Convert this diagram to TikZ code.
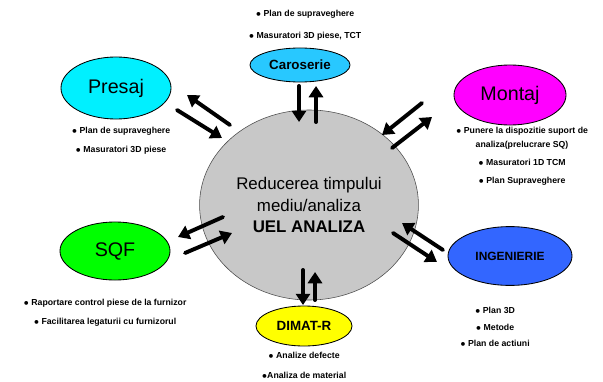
\documentclass[tikz,border=0pt]{standalone}
\usepackage{fontspec}
\setmainfont{Liberation Sans}
\usepackage{tikz}
\usetikzlibrary{positioning,shapes.geometric,arrows.meta}

\definecolor{grisC}{RGB}{200,200,200}
\definecolor{cianC}{RGB}{40,200,255}
\definecolor{cianP}{RGB}{0,240,255}
\definecolor{magentaM}{RGB}{255,0,255}
\definecolor{verdeS}{RGB}{0,255,0}
\definecolor{galbenD}{RGB}{255,255,0}
\definecolor{albastruI}{RGB}{51,102,255}

\tikzset{
  dept/.style={ellipse, draw=black, line width=0.6pt, inner sep=0pt},
  lista/.style={align=center, inner sep=0pt, font=\fontsize{6.2}{7.5}\selectfont\bfseries},
  flow/.style={line width=2.8pt, -{Triangle[length=8pt,width=10pt]}, line cap=round}
}

\begin{document}
\begin{tikzpicture}[x=0.025cm, y=-0.025cm]
\useasboundingbox (0,0) rectangle (603,381);
% Nodes
\node(C)[ellipse, draw=black!70, fill=grisC, minimum width=4.45cm, minimum height=4.75cm, align=center, font=\fontsize{12}{15}\selectfont] at (309,205)
  {Reducerea timpului\\mediu/analiza\\\textbf{UEL ANALIZA}};
\node(car)[dept, fill=cianC, minimum width=2.5cm, minimum height=0.85cm, font=\fontsize{9.5}{11}\selectfont\bfseries] at (300,65){Caroserie};
\node(pres)[dept, fill=cianP, minimum width=2.75cm, minimum height=1.55cm, font=\fontsize{14}{16}\selectfont] at (116,88){Presaj};
\node(mont)[dept, fill=magentaM, minimum width=2.8cm, minimum height=1.5cm, font=\fontsize{14}{16}\selectfont] at (510,95){Montaj};
\node(sqf)[dept, fill=verdeS, minimum width=2.75cm, minimum height=1.45cm, font=\fontsize{14}{16}\selectfont] at (115,251){SQF};
\node(ing)[dept, fill=albastruI, minimum width=3.1cm, minimum height=1.47cm, font=\fontsize{8.5}{10}\selectfont\bfseries] at (510,256){INGENIERIE};
\node(dim)[dept, fill=galbenD, minimum width=2.4cm, minimum height=1.0cm, font=\fontsize{9.5}{11}\selectfont\bfseries] at (304,326){DIMAT-R};
% Lists
\node(carL)[lista] at (305,25){$\bullet$ Plan de supraveghere\\[8pt]$\bullet$ Masuratori 3D piese, TCT};
\node(presL)[lista] at (121,140.5){$\bullet$ Plan de supraveghere\\[6pt]$\bullet$ Masuratori 3D piese};
\node(montL)[lista] at (522,156){$\bullet$ Punere la dispozitie suport de\\[2.5pt]analiza(prelucrare SQ)\\[5.3pt]$\bullet$ Masuratori 1D TCM\\[5.3pt]$\bullet$ Plan Supraveghere};
\node(sqfL)[lista] at (105,312.5){$\bullet$ Raportare control piese de la furnizor\\[6pt]$\bullet$ Facilitarea legaturii cu furnizorul};
\node(ingL)[lista] at (495,326.5){$\bullet$ Plan 3D\\[4.5pt]$\bullet$ Metode\\[3.9pt]$\bullet$ Plan de actiuni};
\node(dimL)[lista] at (304,365){$\bullet$ Analize defecte\\[6.7pt]$\bullet$Analiza de material};
% Arrow ends
\coordinate(car1) at (299,86);  \coordinate(car2) at (299,122);
\coordinate(car3) at (316,122); \coordinate(car4) at (316,86);
\coordinate(pres1) at (230,125); \coordinate(pres2) at (187,95);
\coordinate(pres3) at (177,110); \coordinate(pres4) at (222,138);
\coordinate(mont1) at (422,103); \coordinate(mont2) at (382,135);
\coordinate(mont3) at (392,148); \coordinate(mont4) at (432,117);
\coordinate(sqf1) at (223,217); \coordinate(sqf2) at (178,237);
\coordinate(sqf3) at (185,253); \coordinate(sqf4) at (232,233);
\coordinate(ing1) at (443,250); \coordinate(ing2) at (402,223);
\coordinate(ing3) at (393,233); \coordinate(ing4) at (437,262);
\coordinate(dim1) at (303,270); \coordinate(dim2) at (303,305);
\coordinate(dim3) at (315,300); \coordinate(dim4) at (315,272);
% Arcs
\draw[flow] (car1) -- (car2);
\draw[flow] (car3) -- (car4);
\draw[flow] (pres1) -- (pres2);
\draw[flow] (pres3) -- (pres4);
\draw[flow] (mont1) -- (mont2);
\draw[flow] (mont3) -- (mont4);
\draw[flow] (sqf1) -- (sqf2);
\draw[flow] (sqf3) -- (sqf4);
\draw[flow] (ing1) -- (ing2);
\draw[flow] (ing3) -- (ing4);
\draw[flow] (dim1) -- (dim2);
\draw[flow] (dim3) -- (dim4);
\end{tikzpicture}
\end{document}
